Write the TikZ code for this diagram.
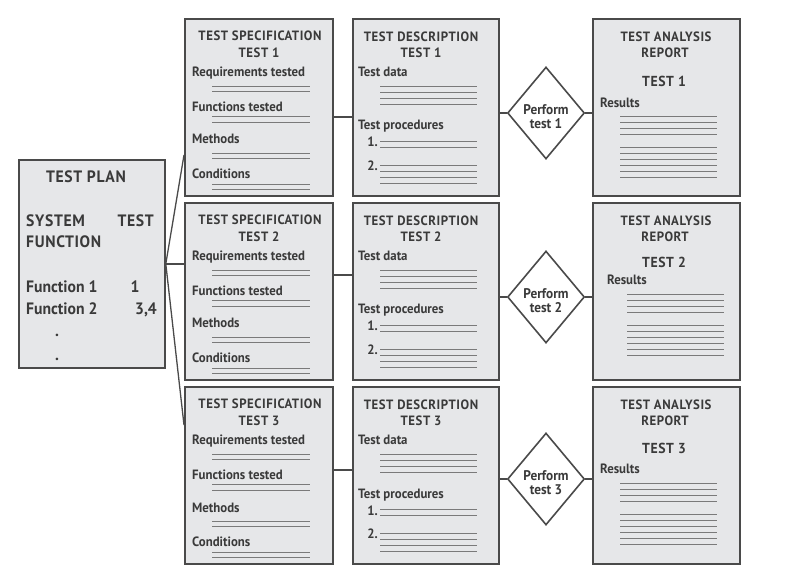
\documentclass[tikz,border=0pt]{standalone}
\usepackage{fontspec}
\setmainfont{PT Sans}[FakeStretch=0.95]
\newfontfamily\capsfont{PT Sans}[FakeStretch=0.95, LetterSpace=4]
\usetikzlibrary{shapes.geometric}
\definecolor{boxfill}{HTML}{E6E7E9}
\definecolor{boxdraw}{HTML}{4A4A4A}
\definecolor{txtc}{HTML}{3A3A3A}
\definecolor{rulec}{HTML}{7A7A7A}
\tikzset{
  docbox/.style={draw=boxdraw, line width=1.8pt, fill=boxfill, anchor=north west, inner sep=0pt},
  lbl/.style={text=txtc, inner sep=0pt, font=\bfseries\fontsize{13.5}{15}\selectfont},
  capl/.style={text=txtc, inner sep=0pt, font=\capsfont\bfseries\fontsize{13.5}{15}\selectfont},
  bigl/.style={text=txtc, inner sep=0pt, font=\bfseries\fontsize{16.5}{18}\selectfont},
  bigc/.style={text=txtc, inner sep=0pt, font=\capsfont\bfseries\fontsize{16.5}{18}\selectfont},
  repl/.style={text=txtc, inner sep=0pt, font=\capsfont\bfseries\fontsize{14.5}{16}\selectfont},
  rulel/.style={draw=rulec, line width=0.9pt},
  conn/.style={draw=boxdraw, line width=1.3pt},
  decide/.style={shape=diamond, draw=boxdraw, line width=1.6pt, fill=white, inner sep=0pt,
    aspect=0.84, minimum width=77pt, minimum height=92pt},
  dtext/.style={text=txtc, align=center, inner sep=0pt,
    font=\bfseries\fontsize{14}{14}\selectfont}
}
\begin{document}
\begin{tikzpicture}[x=1pt,y=-1pt]
\useasboundingbox (0,0) rectangle (788,569);
% test plan
\node[docbox, minimum width=146pt, minimum height=208pt] (plan) at (18,159) {};
\node[bigc, anchor=base] (tp) at (86,183) {TEST PLAN};
\node[bigc, anchor=base west] (sys) at (26,227) {SYSTEM};
\node[bigc, anchor=base east] (tst) at (154,227) {TEST};
\node[bigc, anchor=base west] (fun) at (26,248) {FUNCTION};
\node[bigl, anchor=base west] (f1) at (26,293) {Function 1};
\node[bigl, anchor=base] (f1n) at (135,293) {1};
\node[bigl, anchor=base west] (f2) at (26,315) {Function 2};
\node[bigl, anchor=base] (f2n) at (146,315) {3,4};
\node[bigl, anchor=base] (dot1) at (57,337) {.};
\node[bigl, anchor=base] (dot2) at (57,361) {.};
% rows
\foreach \r/\T/\C/\P/\Rx/\Ry/\G/\Lx/\Tn in {1/18/117/113/600/85/98/620/63, 2/202/275/297/607/78/92/627/60, 3/386/470/479/600/83/97/620/62}{
  % specification
  \node[docbox, minimum width=148pt, minimum height=177pt] (s\r) at (184,\T) {};
  \node[capl, anchor=base] (s\r t) at (260,\T+23) {TEST SPECIFICATION};
  \node[capl, anchor=base] (s\r n) at (259,\T+40) {TEST \r};
  \node[lbl, anchor=base west] (s\r a) at (192,\T+59) {Requirements tested};
  \node[lbl, anchor=base west] (s\r b) at (192,\T+94) {Functions tested};
  \node[lbl, anchor=base west] (s\r c) at (192,\T+126) {Methods};
  \node[lbl, anchor=base west] (s\r d) at (192,\T+161) {Conditions};
  \foreach \o in {68,73,98,104,135,140,166,171}{
    \draw[rulel] (212,\T+\o) -- (310,\T+\o);
  }
  % description
  \node[docbox, minimum width=146pt, minimum height=177pt] (d\r) at (352,\T) {};
  \node[capl, anchor=base] (d\r t) at (421,\T+23.5) {TEST DESCRIPTION};
  \node[capl, anchor=base] (d\r n) at (421,\T+40) {TEST \r};
  \node[lbl, anchor=base west] (d\r a) at (358,\T+59) {Test data};
  \node[lbl, anchor=base west] (d\r b) at (358,\T+112) {Test procedures};
  \node[lbl, anchor=base east] (d\r c) at (378,\T+129) {1.};
  \node[lbl, anchor=base east] (d\r d) at (378,\T+153) {2.};
  \foreach \o in {68,74,80,86,123,129,147,153,159,165}{
    \draw[rulel] (380,\T+\o) -- (477,\T+\o);
  }
  % perform
  \node[decide] (p\r) at (546,\P) {};
  \node[dtext] (p\r l) at ([yshift=-3.5pt]p\r.center) {Perform\\test \r};
  % report
  \node[docbox, minimum width=147pt, minimum height=177pt] (r\r) at (592,\T) {};
  \node[capl, anchor=base] (r\r t) at (666,\T+23.5) {TEST ANALYSIS};
  \node[capl, anchor=base] (r\r u) at (665,\T+40) {REPORT};
  \node[repl, anchor=base] (r\r n) at (664,\T+\Tn+5.5) {TEST \r};
  \node[lbl, anchor=base west] (r\r a) at (\Rx,\T+\Ry+5) {Results};
  \foreach \k in {0,1,2,3}{
    \draw[rulel] (\Lx,\T+\G+6*\k) -- (\Lx+97,\T+\G+6*\k);
  }
  \foreach \k in {0,1,2,3,4,5}{
    \draw[rulel] (\Lx,\T+\G+31+6*\k) -- (\Lx+97,\T+\G+31+6*\k);
  }
  % connectors
  \draw[conn] (s\r.east |- {(0,\C)}) -- (d\r.west |- {(0,\C)});
  \draw[conn] (d\r.east |- p\r.west) -- (p\r.west);
  \draw[conn] (p\r.east) -- (r\r.west |- p\r.east);
}
% plan connectors
\draw[conn] (plan.east) -- (s1.west |- {(0,155)});
\draw[conn] (plan.east) -- (s2.west |- plan.east);
\draw[conn] (plan.east) -- (s3.west |- {(0,425)});
\end{tikzpicture}
\end{document}
